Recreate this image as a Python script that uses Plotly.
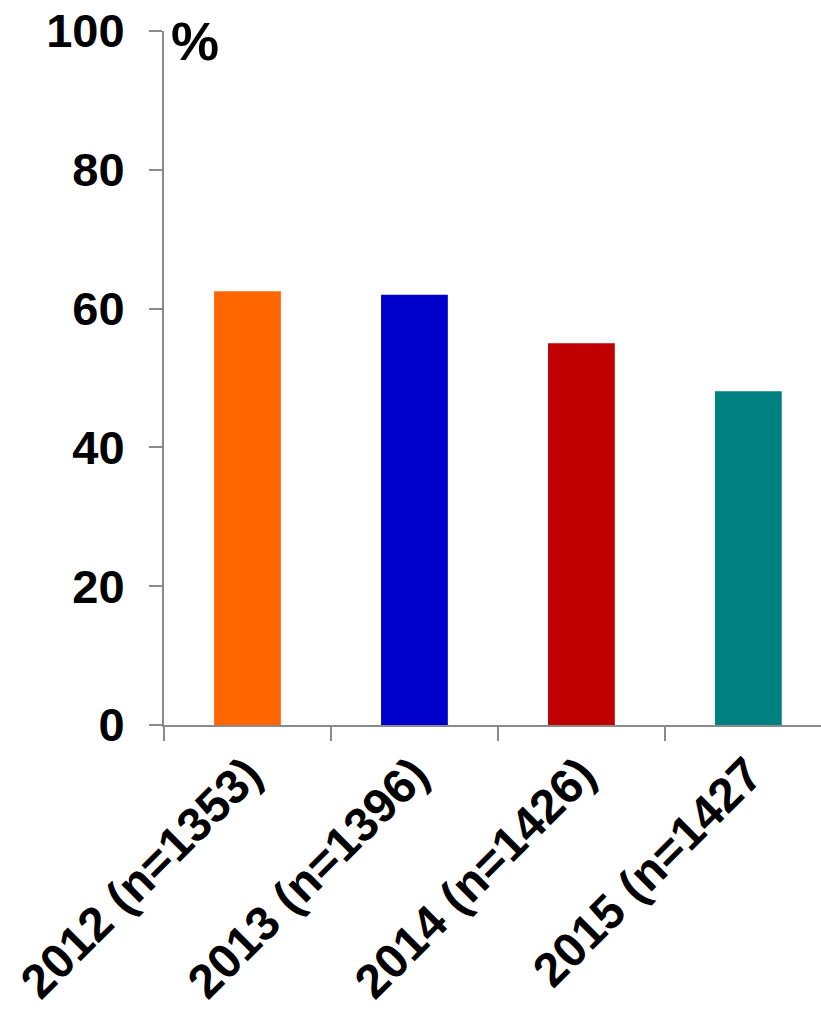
import plotly.graph_objects as go

categories = ["2012 (n=1353)", "2013 (n=1396)", "2014 (n=1426)", "2015 (n=1427"]
values = [62.5, 62.0, 55.0, 48.1]
colors = ["#FF6600", "#0000CC", "#C00000", "#008080"]
y_ticks = [0, 20, 40, 60, 80, 100]

FONT = "Arial, Liberation Sans, sans-serif"
AXIS_COLOR = "#8a8a8a"

fig = go.Figure(
    go.Bar(
        x=categories,
        y=values,
        marker=dict(color=colors, line=dict(width=0)),
        showlegend=False,
    )
)

fig.update_layout(
    width=821,
    height=1009,
    margin=dict(l=164, r=0, t=31, b=284),
    plot_bgcolor="white",
    paper_bgcolor="white",
    bargap=0.6,
    font=dict(family=FONT, color="black"),
    xaxis=dict(
        range=[-0.5, 3.435],
        automargin=False,
        showline=True,
        linecolor=AXIS_COLOR,
        linewidth=2,
        ticks="outside",
        tickson="boundaries",
        ticklen=14,
        tickwidth=2,
        tickcolor=AXIS_COLOR,
        tickangle=-45,
        tickfont=dict(family=FONT, size=48, color="black", weight="bold"),
        ticklabeloverflow="allow",
        showgrid=False,
        zeroline=False,
    ),
    yaxis=dict(
        range=[0, 100],
        automargin=False,
        tickvals=y_ticks,
        ticktext=[str(v) for v in y_ticks],
        showline=True,
        linecolor=AXIS_COLOR,
        linewidth=2,
        ticks="outside",
        ticklen=13,
        tickwidth=2,
        tickcolor=AXIS_COLOR,
        ticklabelstandoff=15,
        ticklabeloverflow="allow",
        tickfont=dict(family=FONT, size=47, color="black", weight="bold"),
        showgrid=False,
        zeroline=False,
    ),
    annotations=[
        dict(
            text="%",
            xref="paper",
            yref="y",
            x=0.008,
            y=98.6,
            xanchor="left",
            yanchor="middle",
            showarrow=False,
            font=dict(family=FONT, size=54, color="black", weight="bold"),
        )
    ],
)

fig.write_html(
    "out.html",
    config={"displayModeBar": False},
    post_script="document.body.style.margin='0px';document.body.style.overflow='hidden';",
)
